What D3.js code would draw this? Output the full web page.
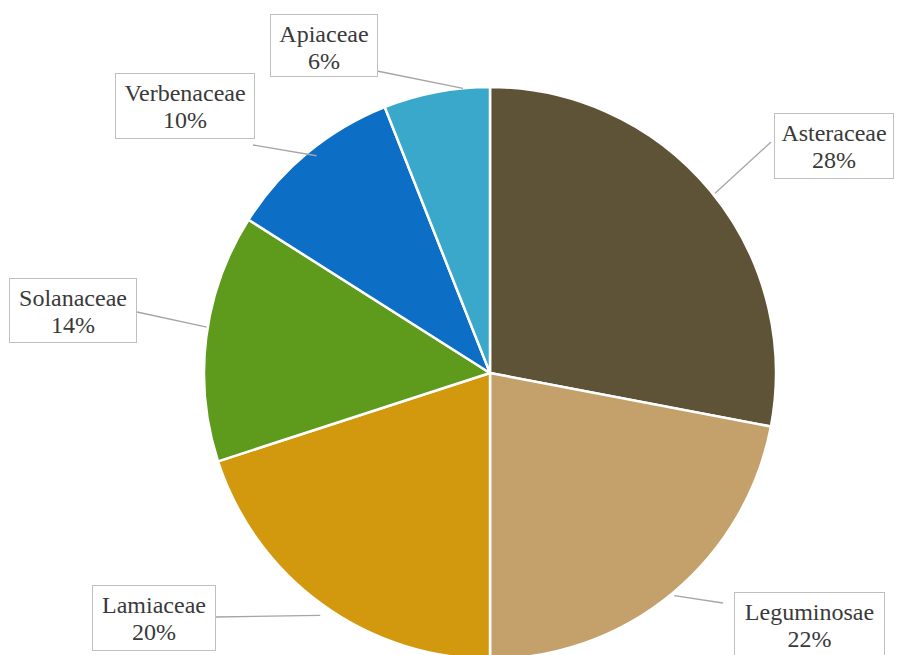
<!DOCTYPE html>
<html>
<head>
<meta charset="utf-8">
<script src="https://cdn.jsdelivr.net/npm/d3@7/dist/d3.min.js"></script>
<style>
  html, body { margin: 0; padding: 0; background: #fff; }
  svg { display: block; }
  .callout-text { font-family: "Liberation Serif", Tinos, "Times New Roman", Times, "Noto Serif", "DejaVu Serif", serif; }
</style>
</head>
<body>
<svg id="chart" width="900" height="655"></svg>
<script>
// Plant families and their share of species (%)
const families = ["Asteraceae", "Leguminosae", "Lamiaceae", "Solanaceae", "Verbenaceae", "Apiaceae"];
const shares = [28, 22, 20, 14, 10, 6];
const shareLabels = ["28%", "22%", "20%", "14%", "10%", "6%"];
const sliceColors = ["#5f5337", "#c4a06b", "#d2990f", "#5e9a1c", "#0d6ec6", "#3aa8cb"];

const width = 900, height = 655;
const cx = 490, cy = 373, radius = 286;

// Callout boxes: position/size, where the leader leaves the box, and a small
// angular nudge (degrees) for where it meets the slice edge.
const callouts = {
  "Asteraceae":  { x: 774, y: 113, w: 119, h: 65, sx: 771, sy: 142, nudge: 1,   gap: 2 },
  "Leguminosae": { x: 734, y: 592, w: 150, h: 66, sx: 723, sy: 603, nudge: 0,   gap: 3 },
  "Lamiaceae":   { x: 92,  y: 585, w: 123, h: 65, sx: 216, sy: 617, nudge: -1,  gap: 10 },
  "Solanaceae":  { x: 9,   y: 278, w: 127, h: 64, sx: 137, sy: 312, nudge: 2,   gap: 1 },
  "Verbenaceae": { x: 115, y: 73,  w: 139, h: 65, sx: 253, sy: 145, nudge: 1,   gap: -8 },
  "Apiaceae":    { x: 270, y: 14,  w: 107, h: 62, sx: 377, sy: 71,  nudge: 5.4, gap: 0 }
};

const svg = d3.select("#chart");
svg.append("rect").attr("width", width).attr("height", height).attr("fill", "#fff");

const data = families.map((f, i) => ({ family: f, value: shares[i], label: shareLabels[i], color: sliceColors[i] }));

const pie = d3.pie().value(d => d.value).sort(null).startAngle(0).endAngle(2 * Math.PI);
const arc = d3.arc().innerRadius(0).outerRadius(radius);
const arcs = pie(data);

const g = svg.append("g").attr("transform", `translate(${cx},${cy})`);

g.selectAll("path.slice")
  .data(arcs)
  .join("path")
  .attr("class", "slice")
  .attr("d", arc)
  .attr("fill", d => d.data.color)
  .attr("stroke", "#fff")
  .attr("stroke-width", 2.5)
  .attr("stroke-linejoin", "round");

// Leader lines from each callout to its slice edge
const leaders = svg.append("g");
arcs.forEach(a => {
  const c = callouts[a.data.family];
  const ang = (a.startAngle + a.endAngle) / 2 + c.nudge * Math.PI / 180;
  const r = radius + c.gap;
  const ex = cx + r * Math.sin(ang);
  const ey = cy - r * Math.cos(ang);
  leaders.append("line")
    .attr("x1", c.sx).attr("y1", c.sy)
    .attr("x2", ex).attr("y2", ey)
    .attr("stroke", "#a5a5a5")
    .attr("stroke-width", 1.3);
});

// Callout boxes with family name and percentage
const boxes = svg.append("g");
arcs.forEach(a => {
  const c = callouts[a.data.family];
  const bg = boxes.append("g");
  bg.append("rect")
    .attr("x", c.x + 0.5).attr("y", c.y + 0.5)
    .attr("width", c.w).attr("height", c.h)
    .attr("fill", "#fff")
    .attr("stroke", "#bfbfbf")
    .attr("stroke-width", 1);
  const tx = c.x + c.w / 2 + 0.5;
  bg.append("text")
    .attr("class", "callout-text")
    .attr("x", tx).attr("y", c.y + 28)
    .attr("text-anchor", "middle")
    .attr("font-size", 24)
    .attr("fill", "#3a3a3a")
    .text(a.data.family);
  bg.append("text")
    .attr("class", "callout-text")
    .attr("x", tx).attr("y", c.y + 55)
    .attr("text-anchor", "middle")
    .attr("font-size", 24)
    .attr("fill", "#3a3a3a")
    .text(a.data.label);
});
</script>
</body>
</html>
